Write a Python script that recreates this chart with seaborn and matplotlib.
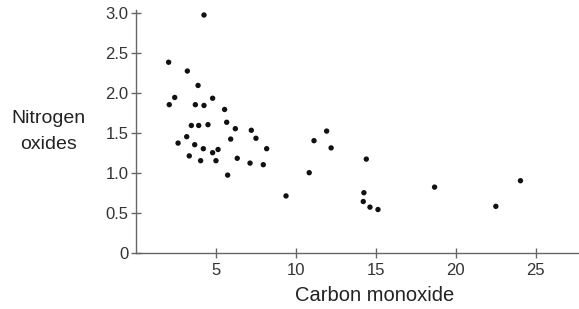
import matplotlib
matplotlib.use("Agg")
import matplotlib.pyplot as plt
import seaborn as sns
import pandas as pd

# values
carbon_monoxide = [4.25, 2.04, 3.21, 3.88, 2.42, 2.08, 3.71, 4.25, 4.79, 5.54,
                   3.46, 3.92, 4.50, 5.67, 6.21, 7.21, 7.50, 5.92, 3.17, 2.63,
                   3.67, 4.21, 5.13, 8.17, 11.13, 11.92, 3.33, 4.04, 4.79, 5.00,
                   6.33, 7.13, 7.96, 5.73, 9.38, 10.83, 12.20, 14.40, 14.25, 14.21,
                   14.63, 15.13, 18.67, 22.50, 24.04]
nitrogen_oxides = [2.97, 2.38, 2.27, 2.09, 1.94, 1.85, 1.85, 1.84, 1.93, 1.79,
                   1.59, 1.59, 1.60, 1.63, 1.55, 1.53, 1.43, 1.42, 1.45, 1.37,
                   1.35, 1.30, 1.29, 1.30, 1.40, 1.52, 1.21, 1.15, 1.25, 1.15,
                   1.18, 1.12, 1.10, 0.97, 0.71, 1.00, 1.31, 1.17, 0.75, 0.64,
                   0.57, 0.54, 0.82, 0.58, 0.90]
x_ticks = [5, 10, 15, 20, 25]
y_ticks = [0, 0.5, 1.0, 1.5, 2.0, 2.5, 3.0]
y_tick_labels = ["0", "0.5", "1.0", "1.5", "2.0", "2.5", "3.0"]

df = pd.DataFrame({"co": carbon_monoxide, "nox": nitrogen_oxides})

sns.set_style("ticks")
plt.rcParams["font.family"] = ["Liberation Sans", "DejaVu Sans"]

fig = plt.figure(figsize=(5.79, 3.09), dpi=100)
ax = fig.add_axes([0.2349, 0.182, 0.7651, 0.785])

sns.scatterplot(data=df, x="co", y="nox", ax=ax, color="#111111",
                s=15, edgecolor="none", linewidth=0)

ax.set_xlim(0, 27.7)
ax.set_ylim(0, 3.03)
ax.set_xticks(x_ticks)
ax.set_xticklabels([str(t) for t in x_ticks])
ax.set_yticks(y_ticks)
ax.set_yticklabels(y_tick_labels)

for side in ["top", "right"]:
    ax.spines[side].set_visible(False)
for side in ["left", "bottom"]:
    ax.spines[side].set_color("#666666")
    ax.spines[side].set_linewidth(1.0)

ax.tick_params(axis="both", direction="inout", length=7, width=1.0,
               color="#666666", labelcolor="#333333", labelsize=12)
ax.tick_params(axis="x", pad=4)
ax.tick_params(axis="y", pad=2)

ax.set_xlabel("Carbon monoxide", fontsize=14.5, color="#222222", va="center")
ax.xaxis.set_label_coords((374.5 - 136) / 443, -(295 - 252.7) / 242.7)
ax.set_ylabel("Nitrogen\noxides", fontsize=14, color="#222222",
              rotation=0, ha="center", va="center", linespacing=1.65)
ax.yaxis.set_label_coords((48 - 136) / 443, (252.7 - 131.4) / 242.7)

fig.savefig("out.png", dpi=100)
